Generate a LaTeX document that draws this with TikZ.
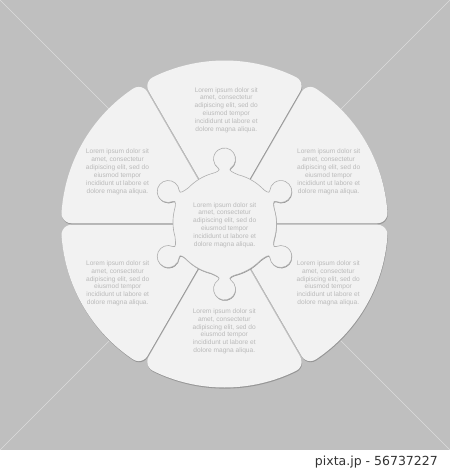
\documentclass[tikz,border=0pt]{standalone}
\usepackage{fontspec}
\usepackage{tikz}
\newfontfamily\loremfont{Liberation Sans}
\newfontfamily\stampfont{DejaVu Sans}
\definecolor{bgGray}{RGB}{191,191,191}
\definecolor{pieceFill}{RGB}{242,242,242}
\definecolor{shadowGray}{RGB}{150,150,150}
\definecolor{cutGray}{RGB}{175,175,175}
\definecolor{loremGray}{RGB}{186,186,186}
\newcommand{\loremtext}{Lorem ipsum dolor sit\\amet, consectetur\\adipiscing elit, sed do\\eiusmod tempor\\incididunt ut labore et\\dolore magna aliqua.}
\tikzset{
piece outline/.style 2 args = {insert path={(0,0) -- (#1:151.67)
    arc[start angle=#1-90, end angle=#1+3.77, radius=10]
    arc[start angle=#1+3.77, end angle=#2-3.77, radius=162]
    arc[start angle=#2-3.77, end angle=#2+90, radius=10] -- cycle}},
hub outline/.style = {insert path={(-14:52)
    \foreach \g in {30,90,...,330}{
      arc[start angle=\g-44, end angle=\g-14, radius=52]
      .. controls (\g-9.6:52.15) and (\g-3.23:53.78) .. (\g-6.43:56.34)
      arc[start angle=\g-145, end angle=\g+145, radius=11]
      .. controls (\g+3.23:53.78) and (\g+9.6:52.15) .. (\g+14:52)
    } -- cycle}},
piece/.style = {fill=pieceFill},
pieceShadow/.style = {fill=shadowGray},
hub/.style = {fill=pieceFill, draw=cutGray, line width=0.6pt},
lorem/.style = {align=center, text=loremGray, inner sep=0pt,
                font=\loremfont\fontsize{6.6}{7.87}\selectfont},
wmline/.style = {draw=white, draw opacity=0.45, line width=0.7pt}
}

\begin{document}
\begin{tikzpicture}[x=1pt, y=1pt]
  \useasboundingbox (-224.5,-245) rectangle (225.5,224);
  % Background
    \fill[bgGray] (-224.5,-226) rectangle (225.5,224);
    \fill[white] (-224.5,-245) rectangle (225.5,-226);

  % Watermark lines
    \coordinate (cornerNW) at (-224.5,224);
    \coordinate (cornerNE) at (225.5,224);
    \coordinate (cornerSW) at (-224.5,-226);
    \coordinate (cornerSE) at (225.5,-226);
    \draw[wmline] (cornerNW) -- (cornerSE);
    \draw[wmline] (cornerNE) -- (cornerSW);

  % Pieces
    \foreach \a in {0,60,...,300}
      \fill[pieceShadow, shift={(\a+30:1.5)}, xshift=0.4, yshift=-1.1,
            piece outline={\a}{\a+60}];
    \foreach \a in {0,60,...,300}
      \fill[piece, shift={(\a+30:1.5)}, piece outline={\a}{\a+60}];

  % Hub
    \fill[pieceShadow, xshift=0.4, yshift=-0.9, hub outline];
    \path[hub, hub outline];

  % Texts
    \node[lorem] (txtTop) at (1.8,114) {\loremtext};
    \node[lorem] (txtUpLeft) at (-107,52.3) {\loremtext};
    \node[lorem] (txtUpRight) at (104.2,52.3) {\loremtext};
    \node[lorem] (txtCenter) at (0.2,-1) {\loremtext};
    \node[lorem] (txtLowLeft) at (-106.8,-59.3) {\loremtext};
    \node[lorem] (txtLowRight) at (103.8,-59.3) {\loremtext};
    \node[lorem] (txtBottom) at (-0.2,-107.3) {\loremtext};

  % Stamp
    \node[anchor=base east, inner sep=0pt, text=black!80,
          font=\stampfont\fontsize{12.5}{14}\selectfont]
          (stampText) at (213.5,-241.7) {pixta.jp - 56737227};
\end{tikzpicture}
\end{document}
